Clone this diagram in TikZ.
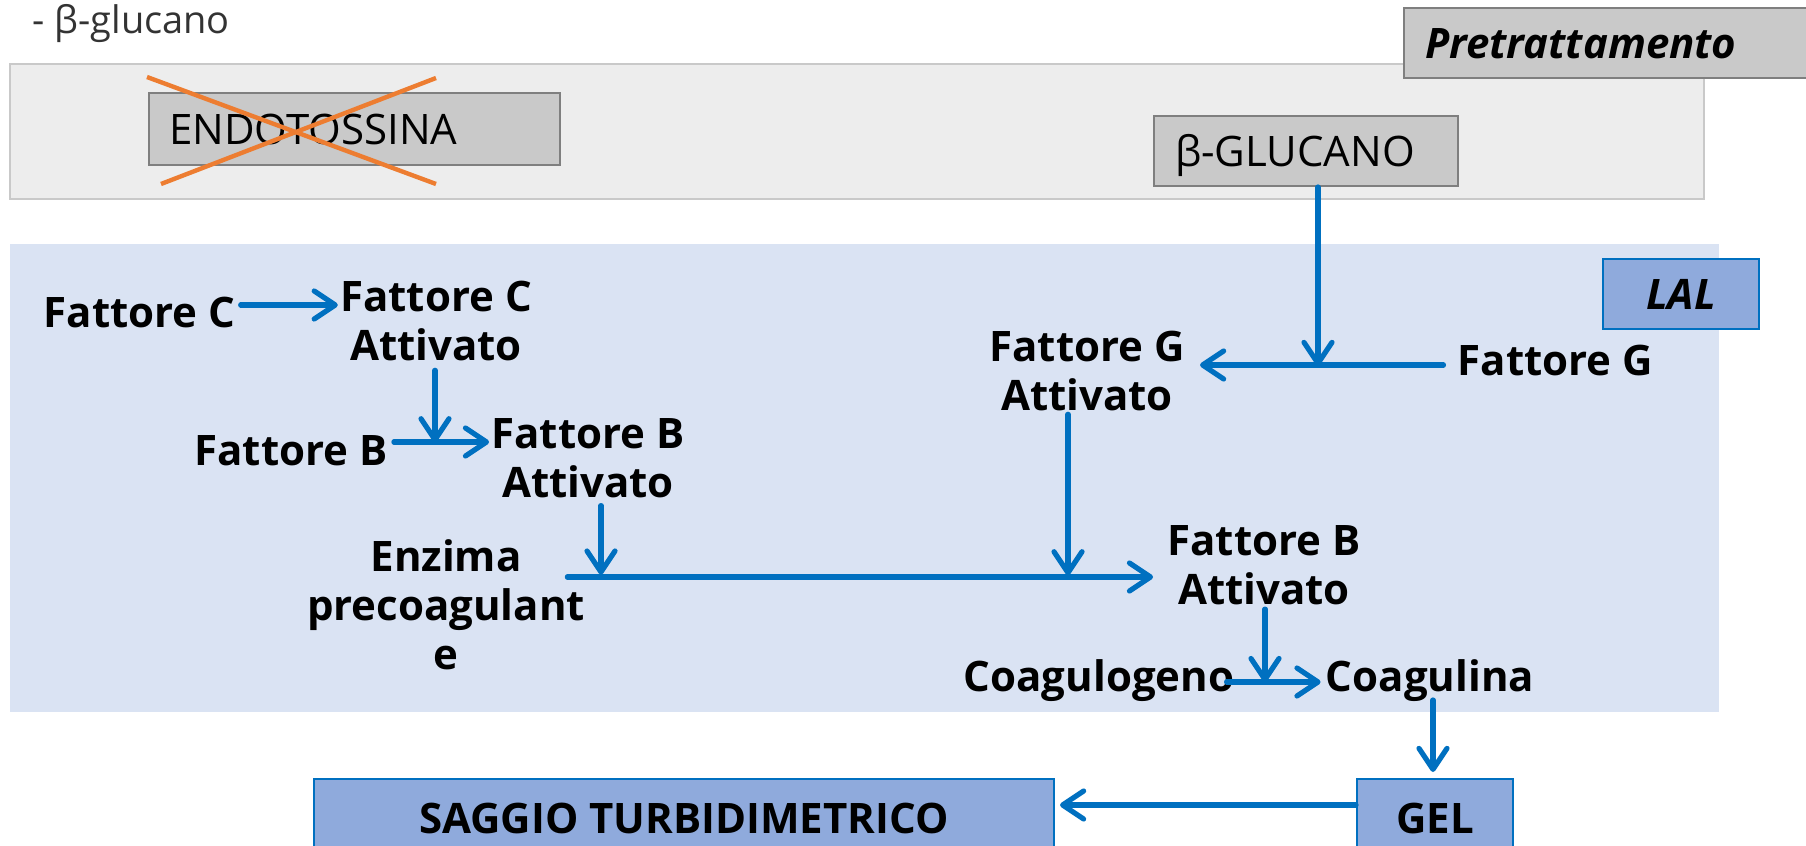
\documentclass[tikz,border=0pt]{standalone}
\usepackage{fontspec}
\setmainfont{Open Sans}
\usetikzlibrary{arrows.meta,calc}
\definecolor{arrowblue}{HTML}{0070C0}
\definecolor{regiongray}{HTML}{EDEDED}
\definecolor{regionborder}{HTML}{C9C9C9}
\definecolor{boxgray}{HTML}{C9C9C9}
\definecolor{boxborder}{HTML}{7F7F7F}
\definecolor{lalfill}{HTML}{DAE3F3}
\definecolor{bluebox}{HTML}{8FAADC}
\definecolor{crossorange}{HTML}{ED7D31}
\definecolor{darktext}{HTML}{333333}
\begin{document}
\begin{tikzpicture}[x=0.5pt,y=-0.5pt,
  lbl/.style={font=\fontsize{21}{24.5}\selectfont\bfseries, inner sep=0pt, align=center},
  arr/.style={draw=arrowblue, line width=2.6pt, line cap=round,
    -{Straight Barb[length=10.5pt,width=14pt,round]}},
  graybox/.style={draw=boxborder, line width=1pt, fill=boxgray, inner ysep=0pt,
    align=left, text height=15pt, text depth=0pt},
  bluerect/.style={draw=arrowblue, line width=1pt, fill=bluebox, inner sep=0pt,
    text height=15pt, text depth=0pt},
  regtext/.style={font=\fontsize{21}{24.5}\selectfont}
]
\useasboundingbox (0,0) rectangle (1806,846);

% background regions
\draw[draw=regionborder, line width=1pt, fill=regiongray] (10,64) rectangle (1704,199);
\fill[lalfill] (10,244) rectangle (1719,712);

% top label
\node[anchor=base west, inner sep=0pt, text=darktext, font=\fontsize{19}{22}\selectfont] (note) at (32,33) {- β-glucano};

% pretreatment boxes
\node[graybox, anchor=west, minimum height=35pt, inner xsep=10.5pt, text width=198pt,
  font=\fontsize{21}{24.5}\selectfont\bfseries\itshape] (pre) at (1403,43) {Pretrattamento};
\node[graybox, anchor=west, minimum height=36pt, inner xsep=10pt, text width=185.5pt, regtext] (endo) at (148,129) {ENDOTOSSINA};
\node[graybox, anchor=west, minimum height=35pt, inner xsep=10.5pt, text width=131pt, regtext] (glu) at (1153,151) {β-GLUCANO};

% orange cross
\draw[crossorange, line width=2.2pt] ($(endo.north west)+(-1,-15)$) -- ($(endo.south east)+(-125,18)$);
\draw[crossorange, line width=2.2pt] ($(endo.south west)+(13,18)$) -- ($(endo.north east)+(-125,-14)$);

% LAL label
\node[bluerect, minimum width=78pt, minimum height=35pt,
  font=\fontsize{21}{24.5}\selectfont\bfseries\itshape] (lal) at (1681,294) {LAL};

% cascade labels
\node[lbl, anchor=base] (fc) at (139.5,327) {Fattore C};
\node[lbl] (fca) at (436,321) {Fattore C\\Attivato};
\node[lbl, anchor=base] (fb) at (291,465) {Fattore B};
\node[lbl] (fba) at (588,458.5) {Fattore B\\Attivato};
\node[lbl] (enz) at (446,605) {Enzima\\precoagulant\\e};
\node[lbl] (fga) at (1087,371) {Fattore G\\Attivato};
\node[lbl, anchor=base] (fg) at (1555.5,375) {Fattore G};
\node[lbl] (fbr) at (1264,565) {Fattore B\\Attivato};
\node[lbl, anchor=base] (cgo) at (1099,691) {Coagulogeno};
\node[lbl, anchor=base] (cgi) at (1430,691) {Coagulina};

% bottom boxes
\node[bluerect, minimum width=370pt, minimum height=39pt, lbl] (sag) at (684,818) {SAGGIO TURBIDIMETRICO};
\node[bluerect, minimum width=78pt, minimum height=39pt, lbl] (gel) at (1435,818) {GEL};

% connectors
\draw[arr] ($(fc.base east)+(5,-22)$) -- ($(fca.west)+(-2,-16)$);
\draw[arr] ($(fca.south)+(-1,9)$) -- ($(fca.south)+(-1,81)$);
\draw[arr] ($(fb.base east)+(6,-23)$) -- ($(fba.west)+(-2,-16.5)$);
\draw[arr] ($(fba.south)+(13,7)$) -- ($(fba.south)+(13,76)$);
\draw[arr] ($(enz.east)+(-18,-28)$) -- ($(fbr.west)+(-14,12)$);
\draw[arr] ($(glu.south)+(12,0)$) -- ($(glu.south)+(12,179)$);
\draw[arr] ($(fg.base west)+(-14,-10)$) -- ($(fga.east)+(15,-6)$);
\draw[arr] ($(fga.south)+(-19,3)$) -- ($(fga.south)+(-19,164)$);
\draw[arr] ($(fbr.south)+(1,4)$) -- ($(fbr.south)+(1,77)$);
\draw[arr] ($(cgo.base east)+(-8,-9)$) -- ($(cgi.base west)+(-5,-9)$);
\draw[arr] ($(cgi.base)+(3,9)$) -- ($(gel.north)+(-2,-6)$);
\draw[arr] ($(gel.west)+(0,-13)$) -- ($(sag.east)+(5,-13)$);
\end{tikzpicture}
\end{document}
